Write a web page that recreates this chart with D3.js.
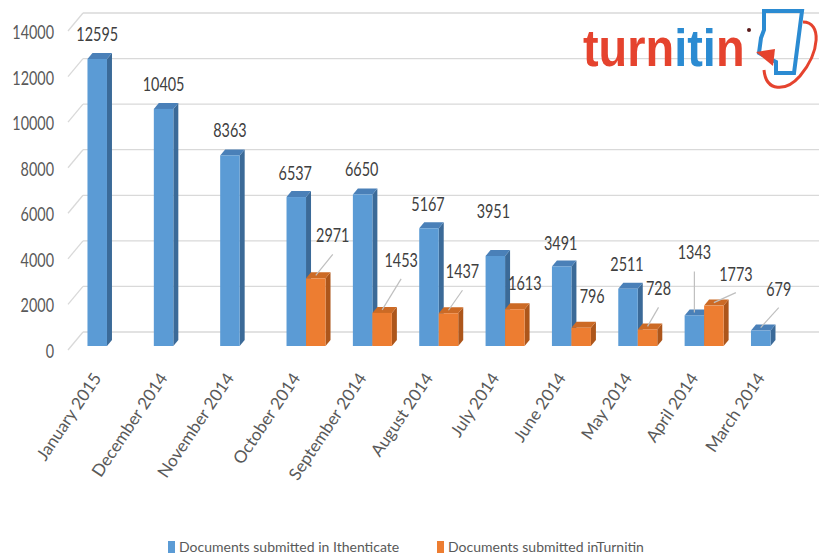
<!DOCTYPE html>
<head>
    <title>Documents submitted</title>
    <script src='https://d3js.org/d3.v7.min.js'></script>
</head>
<style>
body {
  margin: 0;
  background: #fff;
  font-family: Lato, 'Open Sans', sans-serif;
}
</style>
<body>
    <svg></svg>
</body>

<script>
    // chart data
    var months = ['January 2015', 'December 2014', 'November 2014', 'October 2014', 'September 2014',
        'August 2014', 'July 2014', 'June 2014', 'May 2014', 'April 2014', 'March 2014'];
    var ithenticate = [12595, 10405, 8363, 6537, 6650, 5167, 3951, 3491, 2511, 1343, 679];
    var turnitin = [null, null, null, 2971, 1453, 1437, 1613, 796, 728, 1773, null];
    var yTicks = [0, 2000, 4000, 6000, 8000, 10000, 12000, 14000];
    var seriesNames = ['Documents submitted in Ithenticate', 'Documents submitted inTurnitin'];

    // label placement (dx, dy from the bar top) and leader line flag, as moved in the original
    var blueNudge = [[0,-25],[0,-25],[0,-25],[-1,-24],[-1,-25],[-1,-24],[-2,-45],[-1,-23],[-1,-25],[0,-63],[18,-42]];
    var orangeNudge = [null, null, null, [17,-43],[19,-53],[14,-42],[10,-26],[11,-32],[11,-41],[22,-32], null];
    var blueLeader = [0,0,0,0,0,0,0,0,0,1,1];
    var orangeLeader = [0,0,0,1,1,1,0,0,1,1,0];

    var vWidth = 819, vHeight = 557;
    var depthX = 5, depthY = 6;       // bar depth
    var wallX = 15, wallY = 18;       // back wall offset
    var barW = 19.5;

    var svg = d3.select('svg').attr('width', vWidth).attr('height', vHeight);

    var x = d3.scaleBand().domain(months).range([73.8, 73.8 + 11 * 66.35]);
    var y = d3.scaleLinear().domain([0, 14000]).range([346, 27]);

    var colors = {
        blue: { front: '#5b9bd5', top: '#4a80b8', side: '#3b6a98' },
        orange: { front: '#ed7d31', top: '#cc6a25', side: '#ad561b' }
    };

    // gridlines on the back wall + diagonal to the axis
    var grid = svg.append('g');
    grid.selectAll('line.h').data(yTicks).enter().append('line')
        .attr('x1', 68 + wallX).attr('x2', vWidth)
        .attr('y1', function (d) { return y(d) + 4 - wallY; })
        .attr('y2', function (d) { return y(d) + 4 - wallY; })
        .attr('stroke', '#d9d9d9').attr('stroke-width', 1.3);
    grid.selectAll('line.d').data(yTicks).enter().append('line')
        .attr('x1', 68).attr('x2', 68 + wallX)
        .attr('y1', function (d) { return y(d) + 4; })
        .attr('y2', function (d) { return y(d) + 4 - wallY; })
        .attr('stroke', '#d9d9d9').attr('stroke-width', 1.3);

    // y tick labels (narrow, tall text)
    svg.append('g').selectAll('g').data(yTicks).enter().append('g')
        .attr('transform', function (d) { return 'translate(54,' + (y(d) + 5) + ') scale(0.72,1)'; })
        .append('text')
        .attr('text-anchor', 'end').attr('dy', '0.35em')
        .style('font-size', '20px').style('fill', '#595959')
        .text(function (d) { return d; });

    function bar3d(g, x0, v, c) {
        var yt = y(v), yb = y(0);
        g.append('path')
            .attr('d', 'M' + (x0 + barW) + ',' + yb + 'L' + (x0 + barW + depthX) + ',' + (yb - depthY) +
                'L' + (x0 + barW + depthX) + ',' + (yt - depthY) + 'L' + (x0 + barW) + ',' + yt + 'Z')
            .attr('fill', c.side);
        g.append('path')
            .attr('d', 'M' + x0 + ',' + yt + 'L' + (x0 + depthX) + ',' + (yt - depthY) +
                'L' + (x0 + barW + depthX) + ',' + (yt - depthY) + 'L' + (x0 + barW) + ',' + yt + 'Z')
            .attr('fill', c.top);
        g.append('rect')
            .attr('x', x0).attr('y', yt).attr('width', barW).attr('height', yb - yt)
            .attr('fill', c.front);
    }

    var bars = svg.append('g');
    months.forEach(function (m, i) {
        var cx = x(m) + x.bandwidth() / 2;
        bar3d(bars, cx - barW, ithenticate[i], colors.blue);
        if (turnitin[i] != null) bar3d(bars, cx, turnitin[i], colors.orange);
    });

    // data labels with leader lines
    var labels = svg.append('g');
    function addLabel(bx, v, nudge, leader) {
        var lx = bx + nudge[0], ly = y(v) + nudge[1];
        if (leader) {
            labels.append('line')
                .attr('x1', lx).attr('y1', ly + 19)
                .attr('x2', bx).attr('y2', y(v) - 3)
                .attr('stroke', '#bfbfbf').attr('stroke-width', 1.2);
        }
        labels.append('g')
            .attr('transform', 'translate(' + lx + ',' + ly + ') scale(0.72,1)')
            .append('text')
            .attr('text-anchor', 'middle').attr('dy', '0.35em')
            .style('font-size', '20px').style('fill', '#404040')
            .text(v);
    }
    months.forEach(function (m, i) {
        var cx = x(m) + x.bandwidth() / 2;
        addLabel(cx - barW / 2, ithenticate[i], blueNudge[i], blueLeader[i]);
        if (turnitin[i] != null) addLabel(cx + barW / 2, turnitin[i], orangeNudge[i], orangeLeader[i]);
    });

    // x axis labels
    svg.append('g').selectAll('text').data(months).enter().append('text')
        .attr('transform', function (d) { return 'translate(' + (x(d) + x.bandwidth() / 2 - 5) + ',378) rotate(-56)'; })
        .attr('text-anchor', 'end')
        .style('font-size', '17px').style('fill', '#595959')
        .text(function (d) { return d; });

    // legend
    var legend = svg.append('g');
    var legendX = [168, 437];
    [colors.blue.front, colors.orange.front].forEach(function (c, i) {
        legend.append('rect').attr('x', legendX[i]).attr('y', 541).attr('width', 7).attr('height', 12).attr('fill', c);
        legend.append('text').attr('x', legendX[i] + 11).attr('y', 547).attr('dy', '0.35em')
            .style('font-size', '14px').style('fill', '#595959')
            .text(seriesNames[i]);
    });

    // turnitin logo
    var logo = svg.append('g');
    var word = logo.append('g').attr('transform', 'translate(583,66) scale(0.92,1)')
        .append('text')
        .style('font-family', "'Liberation Sans', Arial, sans-serif")
        .style('font-weight', 'bold').style('font-size', '51px');
    [['turn', '#e5432e'], ['iti', '#2b8bd2'], ['n', '#e5432e']].forEach(function (p) {
        word.append('tspan').attr('fill', p[1]).text(p[0]);
    });
    logo.append('circle').attr('cx', 749).attr('cy', 30).attr('r', 2).attr('fill', '#5a1a1a');
    logo.append('path')
        .attr('d', 'M764,11L802,11L794,73L776,73L776,62L759,53L761,38L764,30Z')
        .attr('fill', 'none').attr('stroke', '#2b8bd2').attr('stroke-width', 4);
    logo.append('path')
        .attr('d', 'M803,22C822,22 820,52 800,76C786,92 766,92 764,70')
        .attr('fill', 'none').attr('stroke', '#e5432e').attr('stroke-width', 3);
    logo.append('path')
        .attr('d', 'M756,52L775,49L773,66Z')
        .attr('fill', '#e5432e');
</script>
